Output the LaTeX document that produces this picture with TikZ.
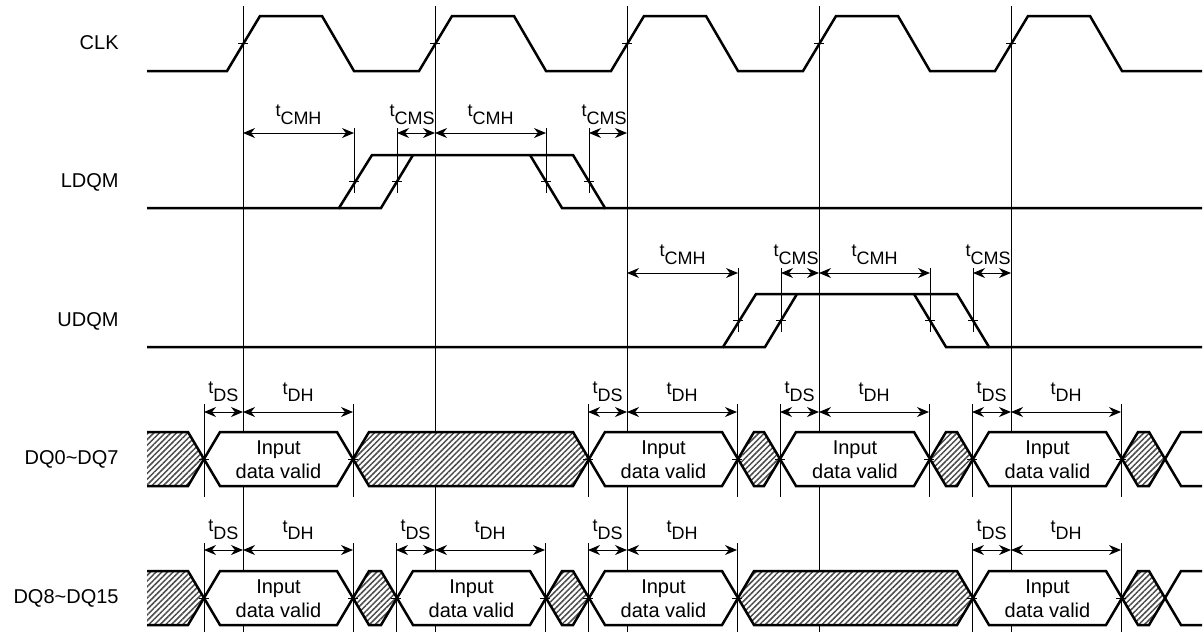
\documentclass[tikz,border=0pt]{standalone}
\usepackage{fontspec}
\setmainfont{Liberation Sans}
\usetikzlibrary{arrows.meta, positioning, calc, patterns.meta}

% t with lowered subscript
\newcommand{\tlab}[1]{t\raisebox{-3.8pt}{#1}}
% bus segment between two crossings: x1, x2, ytop, ybot, style
\newcommand{\busseg}[5]{%
        \draw[wave,#5] (#1,{(#3+#4)/2}) -- ({#1+16},#3) -- ({#2-16},#3) -- (#2,{(#3+#4)/2}) -- ({#2-16},#4) -- ({#1+16},#4) -- cycle;}

\begin{document}
\begin{tikzpicture}[
                x=0.5pt, y=-0.5pt,
                wave/.style={line width=1.25pt, line join=miter},
                guide/.style={line width=0.5pt},
                dim/.style={guide, <->, >={Stealth[length=6pt,width=5pt]}},
                hatched/.style={preaction={fill=white}, pattern={Lines[angle=45,distance=2pt,line width=0.75pt]}, pattern color=black!70},
                blank/.style={fill=white},
                signame/.style={anchor=east, inner sep=0pt, font=\fontsize{10}{12}\selectfont},
                timing/.style={inner sep=0pt, font=\fontsize{9}{10}\selectfont},
                valid/.style={align=center, inner sep=0pt, font=\fontsize{10}{12}\selectfont}
        ]
        \useasboundingbox (0,0) rectangle (1204,632);

        % signal names
        \node[signame] (clk) at (119,43) {CLK};
        \node[signame] (ldqm) at (119,182) {LDQM};
        \node[signame] (udqm) at (119,321) {UDQM};
        \node[signame] (dqlo) at (119,459) {DQ0\textasciitilde DQ7};
        \node[signame] (dqhi) at (119,598) {DQ8\textasciitilde DQ15};

        % clock reference lines
        \foreach \c [count=\i] in {243,435,627,819,1011} {
                \coordinate (ct\i) at (\c,6);
                \coordinate (cb\i) at (\c,632);
                \draw[guide] (ct\i) -- (cb\i);
                \draw[guide] ({\c-5},43.5) -- ({\c+5},43.5);
        }

        % CLK
        \draw[wave] (147,71) \foreach \c in {243,435,627,819,1011} { -- ({\c-16},71) -- ({\c+17},16) -- ({\c+79},16) -- ({\c+111},71) } -- (1202,71);

        % LDQM / UDQM
        \foreach \c/\lo/\hi/\ar/\nm in {243/208/155/133/l, 627/347/294/273/u} {
                \draw[wave] (147,\lo) -- ({\c+96},\lo) -- ({\c+129},\hi) -- ({\c+330},\hi) -- ({\c+362},\lo) -- (1202,\lo);
                \draw[wave] ({\c+96},\lo) -- ({\c+138},\lo) -- ({\c+170},\hi);
                \draw[wave] ({\c+287},\hi) -- ({\c+319},\lo) -- ({\c+362},\lo);
                \foreach \m in {111,154,303,346} {
                        \draw[guide] ({\c+\m},{\ar-5}) -- ({\c+\m},{\lo-15});
                        \draw[guide] ({\c+\m-5},{(\lo+\hi)/2}) -- ({\c+\m+5},{(\lo+\hi)/2});
                }
                \foreach \xa/\xb/\lbl/\fr/\anc [count=\j] in {0/111/CMH/0.5/south, 154/192/CMS/1/south east, 192/303/CMH/0.5/south, 346/384/CMS/1/south east} {
                        \coordinate (\nm a\j) at ({\c+\xa},\ar);
                        \coordinate (\nm b\j) at ({\c+\xb},\ar);
                        \draw[dim] (\nm a\j) -- (\nm b\j);
                        \node[timing, anchor=\anc] (\nm t\j) at ($(\nm a\j)!\fr!(\nm b\j)+(0,-8)$) {\tlab{\lbl}};
                }
        }

        % DQ0~DQ7
        \fill[hatched] (147,432) -- (188,432) -- (204,459) -- (188,486) -- (147,486) -- cycle;
        \draw[wave] (147,432) -- (188,432) -- (204,459) -- (188,486) -- (147,486);
        \foreach \xa/\xb in {353/589, 738/780, 930/973, 1122/1165}
                \busseg{\xa}{\xb}{432}{486}{hatched};
        \foreach \xa/\xb [count=\j] in {204/353, 589/738, 780/930, 973/1122} {
                \busseg{\xa}{\xb}{432}{486}{blank};
                \node[valid] (lov\j) at ({(\xa+\xb)/2},460) {Input\\data valid};
        }
        \draw[wave] (1202,432) -- (1181,432) -- (1165,459) -- (1181,486) -- (1202,486);
        \foreach \c [count=\j] in {243,627,819,1011} {
                \coordinate (los\j) at ({\c-39},412);
                \coordinate (lok\j) at (\c,412);
                \coordinate (loh\j) at ({\c+110},412);
                \draw[guide] ({\c-39},404) -- ({\c-39},497);
                \draw[guide] ({\c+110},404) -- ({\c+110},497);
                \draw[guide] ({\c-44},459) -- ({\c-34},459);
                \draw[guide] ({\c+105},459) -- ({\c+115},459);
                \draw[dim] (los\j) -- (lok\j);
                \draw[dim] (lok\j) -- (loh\j);
                \node[timing, anchor=south] (lods\j) at ($(los\j)!0.5!(lok\j)+(0,-10)$) {\tlab{DS}};
                \node[timing, anchor=south] (lodh\j) at ($(lok\j)!0.5!(loh\j)+(0,-10)$) {\tlab{DH}};
        }

        % DQ8~DQ15
        \fill[hatched] (147,571) -- (188,571) -- (204,598) -- (188,625) -- (147,625) -- cycle;
        \draw[wave] (147,571) -- (188,571) -- (204,598) -- (188,625) -- (147,625);
        \foreach \xa/\xb in {353/397, 546/589, 738/973, 1122/1165}
                \busseg{\xa}{\xb}{571}{625}{hatched};
        \foreach \xa/\xb [count=\j] in {204/353, 397/546, 589/738, 973/1122} {
                \busseg{\xa}{\xb}{571}{625}{blank};
                \node[valid] (hiv\j) at ({(\xa+\xb)/2},599) {Input\\data valid};
        }
        \draw[wave] (1202,571) -- (1181,571) -- (1165,598) -- (1181,625) -- (1202,625);
        \foreach \c [count=\j] in {243,435,627,1011} {
                \coordinate (his\j) at ({\c-39},550);
                \coordinate (hik\j) at (\c,550);
                \coordinate (hih\j) at ({\c+110},550);
                \draw[guide] ({\c-39},543) -- ({\c-39},632);
                \draw[guide] ({\c+110},543) -- ({\c+110},632);
                \draw[guide] ({\c-44},598) -- ({\c-34},598);
                \draw[guide] ({\c+105},598) -- ({\c+115},598);
                \draw[dim] (his\j) -- (hik\j);
                \draw[dim] (hik\j) -- (hih\j);
                \node[timing, anchor=south] (hids\j) at ($(his\j)!0.5!(hik\j)+(0,-10)$) {\tlab{DS}};
                \node[timing, anchor=south] (hidh\j) at ($(hik\j)!0.5!(hih\j)+(0,-10)$) {\tlab{DH}};
        }
\end{tikzpicture}
\end{document}
